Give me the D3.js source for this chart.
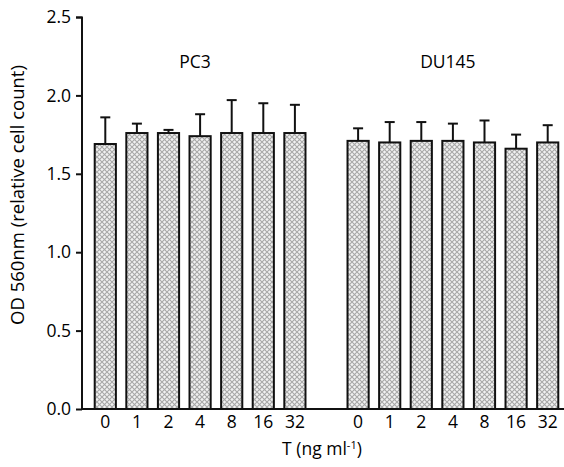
<!DOCTYPE html>
<html>
<head>
<meta charset="utf-8">
<script src="https://cdn.jsdelivr.net/npm/d3@7"></script>
<style>
  body { margin: 0; background: #fff; }
  text { font-family: "Open Sans", "Noto Sans", sans-serif; fill: #000; }
</style>
</head>
<body>
<div id="chart"></div>
<script>
// dose labels and the two cell lines
const doses = ["0", "1", "2", "4", "8", "16", "32"];
const groups = ["PC3", "DU145"];

// bar heights (mean) and upper error bar tops
const pc3Mean = [1.69, 1.76, 1.76, 1.74, 1.76, 1.76, 1.76];
const pc3Err = [1.86, 1.82, 1.78, 1.88, 1.97, 1.95, 1.94];
const du145Mean = [1.71, 1.70, 1.71, 1.71, 1.70, 1.66, 1.70];
const du145Err = [1.79, 1.83, 1.83, 1.82, 1.84, 1.75, 1.81];

const yTicks = [0.0, 0.5, 1.0, 1.5, 2.0, 2.5];

let margin = {top: 17, right: 0, bottom: 58, left: 82};
let width = 564 - margin.left - margin.right;
let height = 467 - margin.top - margin.bottom;
let fontSize = "17.5px";

let svg = d3.select("#chart").append("svg")
    .attr("width", 564)
    .attr("height", 467);

// cross hatch fill
let defs = svg.append("defs");
let pat = defs.append("pattern")
    .attr("id", "hatch")
    .attr("patternUnits", "userSpaceOnUse")
    .attr("width", 5)
    .attr("height", 5);
pat.append("rect").attr("width", 5).attr("height", 5).attr("fill", "#f2f2f2");
pat.append("path")
    .attr("d", "M0,0 L5,5 M5,0 L0,5")
    .attr("stroke", "#a8a8a8")
    .attr("stroke-width", 1.1);

let g = svg.append("g")
    .attr("transform", "translate(" + margin.left + "," + margin.top + ")");

// flat list of bars, with an empty slot between the groups
let bars = [];
let slots = [];
doses.forEach((d, i) => {
    let key = "PC3-" + d;
    slots.push(key);
    bars.push({key: key, dose: d, mean: pc3Mean[i], err: pc3Err[i]});
});
slots.push("gap");
doses.forEach((d, i) => {
    let key = "DU145-" + d;
    slots.push(key);
    bars.push({key: key, dose: d, mean: du145Mean[i], err: du145Err[i]});
});

let x = d3.scaleBand()
    .domain(slots)
    .range([7.5, 7.5 + 15 * 31.6])
    .paddingInner(0.33)
    .paddingOuter(0.165);

let y = d3.scaleLinear()
    .domain([0, 2.5])
    .range([height, 0]);

// error bars (upper only) drawn under the bars
let errG = g.append("g");
bars.forEach(d => {
    let cx = x(d.key) + x.bandwidth() / 2;
    errG.append("line")
        .attr("x1", cx).attr("x2", cx)
        .attr("y1", y(d.mean)).attr("y2", y(d.err))
        .attr("stroke", "#111").attr("stroke-width", 2);
    errG.append("line")
        .attr("x1", cx - 5).attr("x2", cx + 5)
        .attr("y1", y(d.err)).attr("y2", y(d.err))
        .attr("stroke", "#111").attr("stroke-width", 2);
});

g.selectAll("rect.bar")
    .data(bars)
    .enter()
    .append("rect")
    .attr("class", "bar")
    .attr("x", d => x(d.key))
    .attr("y", d => y(d.mean))
    .attr("width", x.bandwidth())
    .attr("height", d => height - y(d.mean))
    .attr("fill", "url(#hatch)")
    .attr("stroke", "#111")
    .attr("stroke-width", 2);

// y axis
let yAxis = d3.axisLeft(y)
    .tickValues(yTicks)
    .tickFormat(d3.format(".1f"))
    .tickSize(6)
    .tickPadding(5);
let yAxisGroup = g.append("g").attr("class", "y-axis").call(yAxis);
yAxisGroup.select(".domain").attr("stroke", "#111").attr("stroke-width", 2).attr("d", "M-6,0.5H0V" + height);
yAxisGroup.selectAll(".tick line").attr("stroke", "#111").attr("stroke-width", 2);
yAxisGroup.selectAll("text").style("font-size", fontSize).attr("fill", "#000");

// x axis baseline, labels only
let xAxis = d3.axisBottom(x)
    .tickSize(0)
    .tickPadding(7)
    .tickFormat(d => d === "gap" ? "" : d.split("-")[1]);
let xAxisGroup = g.append("g")
    .attr("class", "x-axis")
    .attr("transform", "translate(0," + height + ")")
    .call(xAxis);
xAxisGroup.select(".domain").attr("stroke", "#111").attr("stroke-width", 2).attr("d", "M0,0H" + width);
xAxisGroup.selectAll("text").style("font-size", fontSize).attr("fill", "#000");

// group labels
groups.forEach((name, i) => {
    let first = x(name + "-0");
    let last = x(name + "-32") + x.bandwidth();
    g.append("text")
        .attr("x", (first + last) / 2 - 5)
        .attr("y", 51)
        .style("text-anchor", "middle")
        .style("font-size", fontSize)
        .text(name);
});

// axis titles
svg.append("text")
    .attr("transform", "translate(24,195) rotate(-90)")
    .style("text-anchor", "middle")
    .style("font-size", "18.5px")
    .text("OD 560nm (relative cell count)");

let xTitle = svg.append("text")
    .attr("x", 322)
    .attr("y", 455)
    .style("text-anchor", "middle")
    .style("font-size", fontSize);
xTitle.append("tspan").text("T (ng ml");
xTitle.append("tspan").attr("dy", -6).style("font-size", "11px").text("-1");
xTitle.append("tspan").attr("dy", 6).text(")");
</script>
</body>
</html>
